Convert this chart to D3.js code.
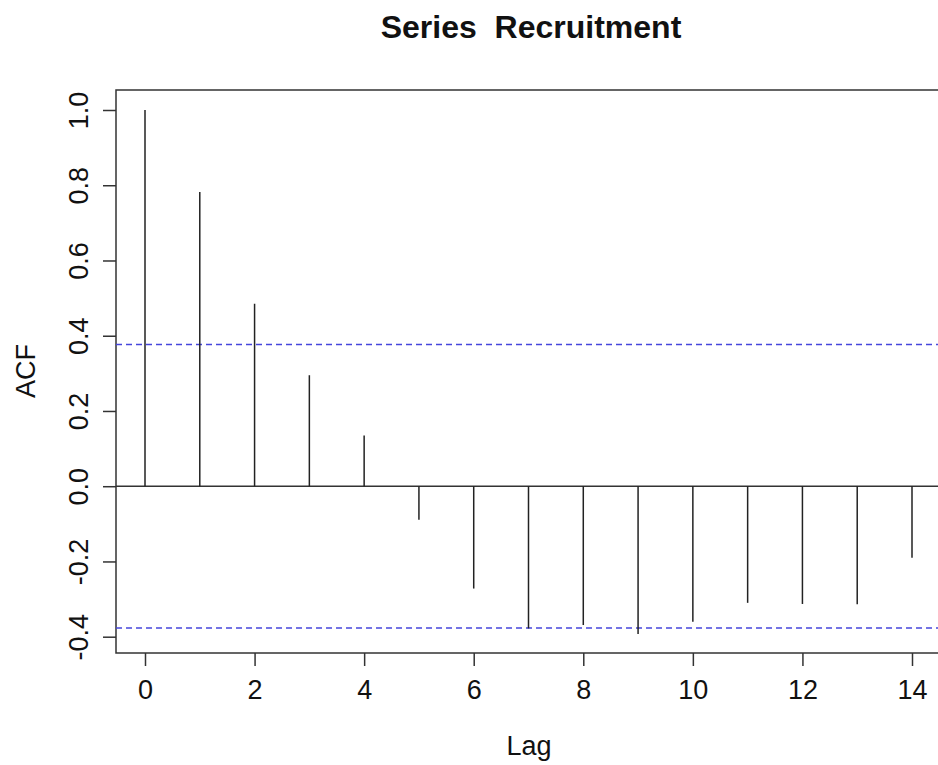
<!DOCTYPE html>
<html>
<head>
<meta charset="utf-8">
<script src="https://cdn.jsdelivr.net/npm/d3@7"></script>
<style>
  body { margin: 0; background: #fff; }
  text { font-family: "Liberation Sans", Arial, Helvetica, sans-serif; fill: #111; }
</style>
</head>
<body>
<div id="chart"></div>
<script>
// ACF of Recruitment series
const lags = [0, 1, 2, 3, 4, 5, 6, 7, 8, 9, 10, 11, 12, 13, 14];
const acfValues = [1.0, 0.782, 0.485, 0.295, 0.135, -0.089, -0.272, -0.378, -0.369, -0.393, -0.360, -0.310, -0.313, -0.314, -0.190];
const ciBound = 0.377;
const xTicks = [0, 2, 4, 6, 8, 10, 12, 14];
const yTicks = [-0.4, -0.2, 0.0, 0.2, 0.4, 0.6, 0.8, 1.0];

var width = 938, height = 765;
var box = {left: 116, top: 90, right: 946, bottom: 653};

var svg = d3.select("#chart")
  .append("svg")
    .attr("width", width)
    .attr("height", height);

var x = d3.scaleLinear()
    .domain([0, 14])
    .range([145, 912]);

var y = d3.scaleLinear()
    .domain([-0.4, 1.0])
    .range([636.7, 110]);

// plain hyphen minus, like R
var fmtY = function(d) { return d.toFixed(1); };

// plot frame
svg.append("rect")
    .attr("x", box.left)
    .attr("y", box.top)
    .attr("width", box.right - box.left)
    .attr("height", box.bottom - box.top)
    .attr("fill", "none")
    .attr("stroke", "#333")
    .attr("stroke-width", 1.5);

// x axis
var xAxis = svg.append("g")
    .attr("transform", "translate(0," + box.bottom + ")")
    .call(d3.axisBottom(x).tickValues(xTicks).tickSize(13).tickPadding(14).tickFormat(d3.format("d")));
xAxis.select(".domain").remove();
xAxis.selectAll("line").attr("stroke", "#333").attr("stroke-width", 1.5);
xAxis.selectAll("text")
    .style("font-size", "27px")
    .style("font-family", "'Liberation Sans', Arial, sans-serif")
    .attr("fill", "#111");

// y axis
var yAxis = svg.append("g")
    .attr("transform", "translate(" + box.left + ",0)")
    .call(d3.axisLeft(y).tickValues(yTicks).tickSize(13).tickFormat(fmtY));
yAxis.select(".domain").remove();
yAxis.selectAll("line").attr("stroke", "#333").attr("stroke-width", 1.5);
yAxis.selectAll("text")
    .attr("x", null)
    .attr("dy", null)
    .attr("transform", "translate(-28,0) rotate(-90)")
    .style("text-anchor", "middle")
    .style("font-size", "27px")
    .style("font-family", "'Liberation Sans', Arial, sans-serif")
    .attr("fill", "#111");

// zero line
svg.append("line")
    .attr("x1", box.left)
    .attr("x2", box.right)
    .attr("y1", y(0))
    .attr("y2", y(0))
    .attr("stroke", "#333")
    .attr("stroke-width", 1.5);

// confidence bounds
svg.selectAll(".ci")
  .data([ciBound, -ciBound])
  .enter()
  .append("line")
    .attr("class", "ci")
    .attr("x1", box.left)
    .attr("x2", box.right)
    .attr("y1", function(d) { return y(d); })
    .attr("y2", function(d) { return y(d); })
    .attr("stroke", "#4646dc")
    .attr("stroke-width", 1.5)
    .attr("stroke-dasharray", "6,4");

// spikes
svg.selectAll(".spike")
  .data(lags)
  .enter()
  .append("line")
    .attr("class", "spike")
    .attr("x1", function(d) { return x(d); })
    .attr("x2", function(d) { return x(d); })
    .attr("y1", y(0))
    .attr("y2", function(d, i) { return y(acfValues[i]); })
    .attr("stroke", "#222")
    .attr("stroke-width", 1.5);

// title and labels
svg.append("text")
    .attr("x", 531)
    .attr("y", 38)
    .attr("text-anchor", "middle")
    .style("font-size", "32px")
    .style("font-weight", "bold")
    .style("white-space", "pre")
    .text("Series  Recruitment");

svg.append("text")
    .attr("x", 529)
    .attr("y", 755)
    .attr("text-anchor", "middle")
    .style("font-size", "27px")
    .text("Lag");

svg.append("text")
    .attr("transform", "translate(35," + 371 + ") rotate(-90)")
    .attr("text-anchor", "middle")
    .style("font-size", "27px")
    .text("ACF");
</script>
</body>
</html>
